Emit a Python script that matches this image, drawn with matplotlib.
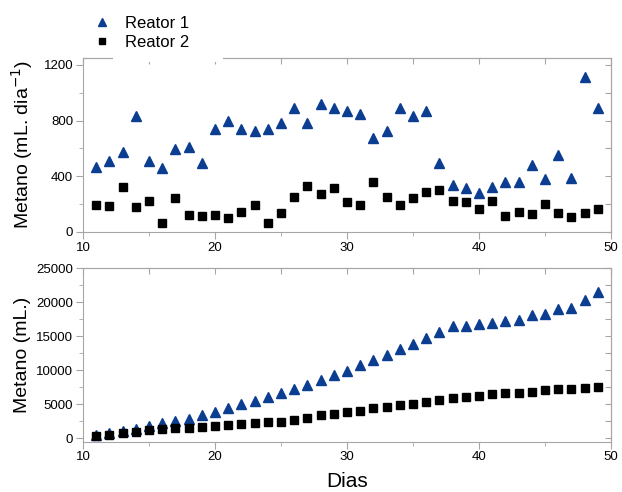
import matplotlib
matplotlib.use("Agg")
import matplotlib.pyplot as plt
from matplotlib.ticker import MultipleLocator
from matplotlib.patches import Rectangle

plt.rcParams['font.family'] = ['Liberation Sans', 'DejaVu Sans']

dias = list(range(11, 50))

# producao diaria (mL/dia)
reator1_dia = [470, 508, 571, 835, 508, 460, 597, 612, 492, 737,
               796, 737, 722, 737, 782, 892, 782, 921, 892, 868,
               845, 676, 727, 892, 832, 868, 494, 338, 314, 283,
               321, 357, 362, 484, 377, 550, 389, 1115, 888]
reator2_dia = [197, 185, 324, 180, 221, 68, 242, 120, 115, 120,
               99, 147, 192, 65, 139, 250, 329, 276, 314, 214,
               197, 362, 252, 197, 242, 288, 300, 226, 216, 163,
               226, 113, 142, 127, 199, 137, 108, 134, 168]

# producao acumulada (mL)
reator1_acum = [485, 730, 1120, 1410, 1810, 2200, 2540, 2890, 3430, 3870,
                4410, 5000, 5490, 6080, 6620, 7250, 7880, 8530, 9260, 9940,
                10730, 11510, 12250, 13090, 13920, 14800, 15680, 16510, 16510, 16760,
                17000, 17200, 17440, 18090, 18330, 18970, 19210, 20340, 21510]
reator2_acum = [340, 530, 830, 980, 1170, 1320, 1470, 1570, 1720, 1860,
                1960, 2150, 2300, 2350, 2450, 2740, 3030, 3380, 3620, 3910,
                4060, 4410, 4650, 4850, 5090, 5340, 5630, 5930, 6080, 6270,
                6510, 6620, 6710, 6860, 7060, 7210, 7300, 7450, 7590]

azul = '#0b3d91'
cinza = '#a6a6a6'

fig = plt.figure(figsize=(6.22, 4.92), dpi=100)
ax1 = fig.add_axes([0.1334, 0.5285, 0.849, 0.3537])
ax2 = fig.add_axes([0.1334, 0.1022, 0.849, 0.3524])


def estilo(ax, ymaj, ymin):
    for s in ax.spines.values():
        s.set_color(cinza)
    ax.set_xlim(10, 50)
    ax.xaxis.set_major_locator(MultipleLocator(10))
    ax.xaxis.set_minor_locator(MultipleLocator(5))
    ax.yaxis.set_major_locator(MultipleLocator(ymaj))
    ax.yaxis.set_minor_locator(MultipleLocator(ymin))
    ax.tick_params(which='both', direction='out', color=cinza, labelsize=9.5, pad=2)
    ax.tick_params(which='major', length=5)
    ax.tick_params(which='minor', length=3)
    top = ax.secondary_xaxis('top')
    top.xaxis.set_major_locator(MultipleLocator(5))
    top.tick_params(direction='in', length=4, color=cinza, labeltop=False)
    right = ax.secondary_yaxis('right')
    right.yaxis.set_major_locator(MultipleLocator(ymin))
    right.tick_params(direction='in', length=4, color=cinza, labelright=False)
    for sec in (top, right):
        for s in sec.spines.values():
            s.set_color(cinza)


l1, = ax1.plot(dias, reator1_dia, linestyle='none', marker='^', ms=7, color=azul, label='Reator 1')
l2, = ax1.plot(dias, reator2_dia, linestyle='none', marker='s', ms=5.5, color='black', label='Reator 2')
ax1.set_ylim(0, 1250)
estilo(ax1, 400, 200)
ax1.set_ylabel('Metano (mL. dia$^{-1}$)', fontsize=14, labelpad=6)

ax2.plot(dias, reator1_acum, linestyle='none', marker='^', ms=7, color=azul)
ax2.plot(dias, reator2_acum, linestyle='none', marker='s', ms=5.5, color='black')
ax2.set_ylim(-500, 25000)
estilo(ax2, 5000, 2500)
ax2.set_ylabel('Metano (mL.)', fontsize=14, labelpad=4)
ax2.set_xlabel('Dias', fontsize=15, labelpad=6)

# caixa branca da legenda que corta o eixo superior
fig.add_artist(Rectangle((0.182, 0.874), 0.177, 0.02, transform=fig.transFigure,
                         facecolor='white', edgecolor='none', zorder=11))

leg = fig.legend(handles=[l1, l2], loc='upper left', bbox_to_anchor=(0.126, 0.995),
                 frameon=False, fontsize=12, handletextpad=0.8, borderpad=0.3,
                 labelspacing=0.25, handlelength=1.2, markerscale=0.8)
leg.set_zorder(12)

fig.savefig('out.png', dpi=100)
